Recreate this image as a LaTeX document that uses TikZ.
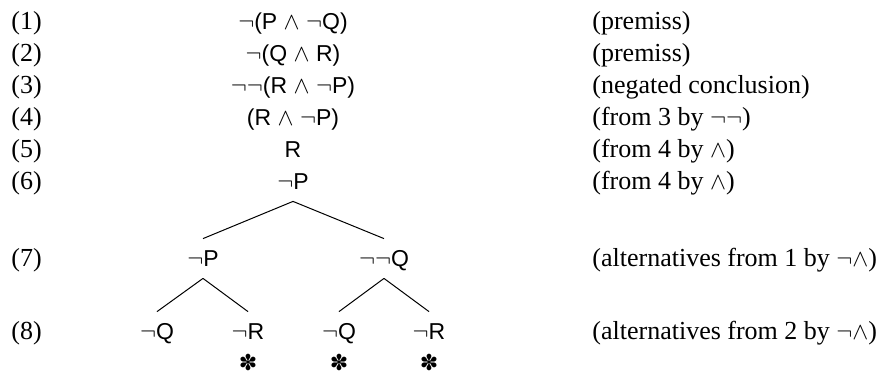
\documentclass[tikz,border=0pt]{standalone}
\usepackage{fontspec}
\setmainfont{Liberation Serif}
\newfontfamily\fsans{Liberation Sans}
\newfontfamily\fsym{DejaVu Sans}
\newcommand\myand{ $\wedge$ }
\newcommand\mynot{$\neg$}
\begin{document}
\begin{tikzpicture}[x=0.5pt,y=-0.5pt,
  lab/.style={anchor=base west,inner sep=0pt,font=\fontsize{13}{15}\selectfont},
  cmt/.style={anchor=base west,inner sep=0pt,font=\fontsize{13}{15}\selectfont},
  fml/.style={anchor=base,inner sep=0pt,font=\fsans\fontsize{11.5}{13}\selectfont},
  tnode/.style={fml,inner xsep=0pt,inner ysep=6pt,text height=7.5pt,text depth=0pt},
  closed/.style={inner sep=0pt,font=\fsym\fontsize{11}{13}\selectfont},
  branch/.style={line width=0.5pt}]
\useasboundingbox (0,0) rectangle (885,376);
% row labels
\node[lab] (n1) at (11,29) {(1)};
\node[lab] (n2) at (11,61) {(2)};
\node[lab] (n3) at (11,93) {(3)};
\node[lab] (n4) at (11,125) {(4)};
\node[lab] (n5) at (11,157) {(5)};
\node[lab] (n6) at (11,189) {(6)};
\node[lab] (n7) at (11,266) {(7)};
\node[lab] (n8) at (11,339) {(8)};
% formulas
\node[fml] (f1) at (293,29) {\mynot(P\myand\mynot Q)};
\node[fml] (f2) at (293,61) {\mynot(Q\myand R)};
\node[fml] (f3) at (293,93) {\mynot\mynot(R\myand\mynot P)};
\node[fml] (f4) at (293,125) {(R\myand\mynot P)};
\node[fml] (f5) at (293,157) {R};
\node[tnode] (f6) at (293,189) {\mynot P};
\node[tnode] (t7a) at (203,266) {\mynot P};
\node[tnode] (t7b) at (384,266) {\mynot\mynot Q};
\node[tnode] (t8a) at (157,339) {\mynot Q};
\node[tnode] (t8b) at (248,339) {\mynot R};
\node[tnode] (t8c) at (339,339) {\mynot Q};
\node[tnode] (t8d) at (429,339) {\mynot R};
% closed branches
\node[closed] (x1) at (248,362) {✽};
\node[closed] (x2) at (339,362) {✽};
\node[closed] (x3) at (429,362) {✽};
% branches
\draw[branch] (f6.south) -- (t7a.north);
\draw[branch] (f6.south) -- (t7b.north);
\draw[branch] (t7a.south) -- (t8a.north);
\draw[branch] (t7a.south) -- (t8b.north);
\draw[branch] (t7b.south) -- (t8c.north);
\draw[branch] (t7b.south) -- (t8d.north);
% comments
\node[cmt] (c1) at (592,29) {(premiss)};
\node[cmt] (c2) at (592,61) {(premiss)};
\node[cmt] (c3) at (592,93) {(negated conclusion)};
\node[cmt] (c4) at (592,125) {(from 3 by $\neg\neg$)};
\node[cmt] (c5) at (592,157) {(from 4 by $\wedge$)};
\node[cmt] (c6) at (592,189) {(from 4 by $\wedge$)};
\node[cmt] (c7) at (592,266) {(alternatives from 1 by $\neg\wedge$)};
\node[cmt] (c8) at (592,339) {(alternatives from 2 by $\neg\wedge$)};
\end{tikzpicture}
\end{document}
